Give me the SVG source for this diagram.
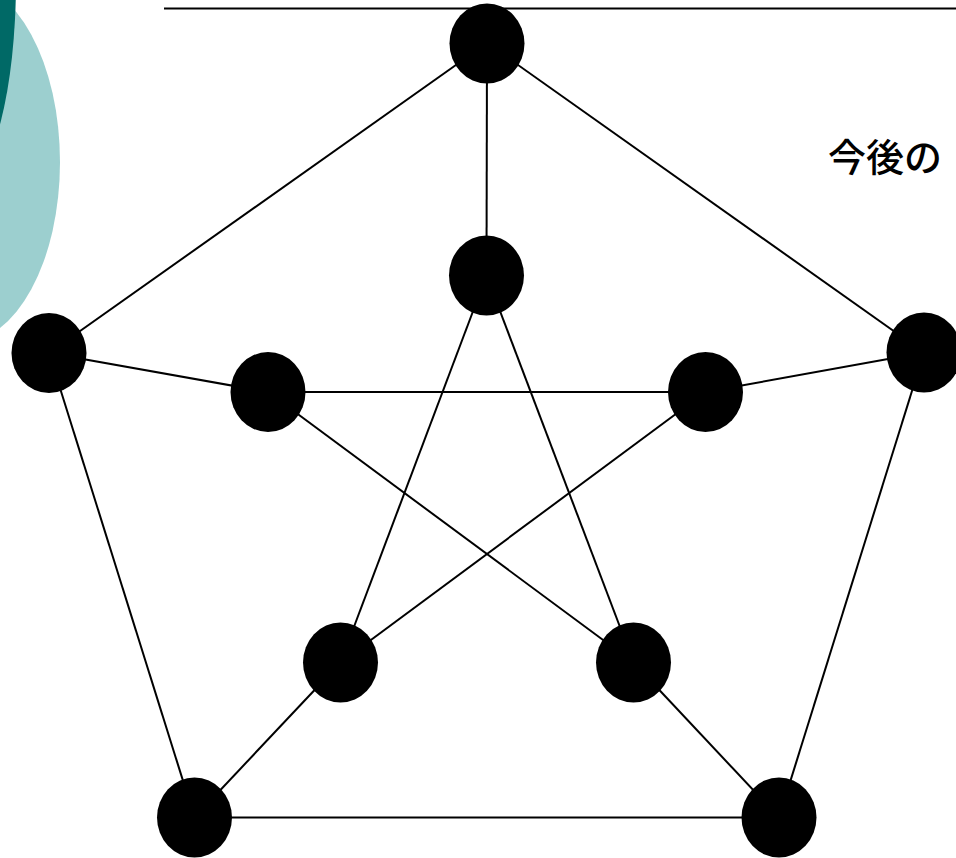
<svg xmlns="http://www.w3.org/2000/svg" width="956" height="858" viewBox="0 0 956 858">
  <style>
    .edge { stroke: #000; stroke-width: 2; fill: none; }
    .node { fill: #000; }
    .label { font-family: "Noto Sans CJK JP", "Noto Sans", sans-serif; font-size: 38px; font-weight: 500; fill: #000; }
  </style>
  <rect width="956" height="858" fill="#fff"/>
  <g id="decor">
    <ellipse cx="-38" cy="162" rx="98" ry="180" fill="#9CCFCF"/>
    <ellipse cx="-36" cy="-20" rx="52" ry="200" fill="#006966"/>
    <line x1="164" y1="8.5" x2="956" y2="8.5" stroke="#000" stroke-width="2"/>
  </g>
  <text class="label" x="828" y="171">今後の</text>
  <g id="connectors">
    <!-- outer pentagon -->
    <line class="edge" x1="487" y1="43" x2="49" y2="353"/>
    <line class="edge" x1="49" y1="353" x2="194.5" y2="817.5"/>
    <line class="edge" x1="194.5" y1="817.5" x2="779" y2="817.5"/>
    <line class="edge" x1="779" y1="817.5" x2="924" y2="352.5"/>
    <line class="edge" x1="924" y1="352.5" x2="487" y2="43"/>
    <!-- spokes -->
    <line class="edge" x1="487" y1="43" x2="486.5" y2="275.5"/>
    <line class="edge" x1="49" y1="353" x2="268" y2="392"/>
    <line class="edge" x1="924" y1="352.5" x2="705.5" y2="392"/>
    <line class="edge" x1="194.5" y1="817.5" x2="340.5" y2="662.5"/>
    <line class="edge" x1="779" y1="817.5" x2="633.5" y2="662.5"/>
    <!-- inner pentagram -->
    <line class="edge" x1="486.5" y1="275.5" x2="340.5" y2="662.5"/>
    <line class="edge" x1="486.5" y1="275.5" x2="633.5" y2="662.5"/>
    <line class="edge" x1="268" y1="392" x2="705.5" y2="392"/>
    <line class="edge" x1="268" y1="392" x2="633.5" y2="662.5"/>
    <line class="edge" x1="705.5" y1="392" x2="340.5" y2="662.5"/>
  </g>
  <g id="n-top"><ellipse class="node" cx="487" cy="43.5" rx="37.5" ry="40"/></g>
  <g id="n-left"><ellipse class="node" cx="49" cy="353" rx="37.5" ry="40"/></g>
  <g id="n-right"><ellipse class="node" cx="924" cy="352.5" rx="37.5" ry="40"/></g>
  <g id="n-bottom-left"><ellipse class="node" cx="194.5" cy="817.5" rx="37.5" ry="40"/></g>
  <g id="n-bottom-right"><ellipse class="node" cx="779" cy="817.5" rx="37.5" ry="40"/></g>
  <g id="n-inner-top"><ellipse class="node" cx="486.5" cy="275.5" rx="37.5" ry="40"/></g>
  <g id="n-inner-left"><ellipse class="node" cx="268" cy="392" rx="37.5" ry="40"/></g>
  <g id="n-inner-right"><ellipse class="node" cx="705.5" cy="392" rx="37.5" ry="40"/></g>
  <g id="n-inner-bottom-left"><ellipse class="node" cx="340.5" cy="662.5" rx="37.5" ry="40"/></g>
  <g id="n-inner-bottom-right"><ellipse class="node" cx="633.5" cy="662.5" rx="37.5" ry="40"/></g>
</svg>
